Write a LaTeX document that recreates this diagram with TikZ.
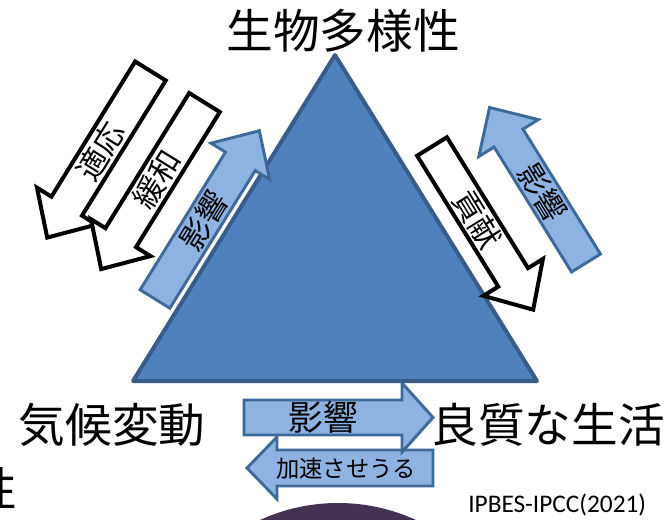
\documentclass[tikz,border=0pt]{standalone}
\usepackage{fontspec}
\newfontfamily\jpfont{Noto Sans CJK JP}
\newfontfamily\calfont{Carlito}
\definecolor{trifill}{HTML}{4F81BD}
\definecolor{triline}{HTML}{385D8A}
\definecolor{bluefill}{HTML}{8DB3E2}
\definecolor{blueline}{HTML}{3E6A9A}
\definecolor{purp}{HTML}{433252}
\newcommand{\blockarrow}[5]{%
  \draw[#1] (0,-#3) -- ({#2-#5},-#3) -- ({#2-#5},-#4) -- (#2,0) -- ({#2-#5},#4) -- ({#2-#5},#3) -- (0,#3) -- cycle;}
\tikzset{
  whitearrow/.style={draw=black, fill=white, line width=3pt, line join=miter},
  bluearrow/.style={draw=blueline, fill=bluefill, line width=2.2pt, line join=miter},
  big/.style={font=\jpfont\fontsize{35}{40}\selectfont, inner sep=0pt},
  rottext/.style={font=\jpfont\fontsize{23}{26}\selectfont, inner sep=0pt},
}
\begin{document}
\begin{tikzpicture}[x=0.75pt, y=-0.75pt]
\useasboundingbox (0,0) rectangle (671,519);
\clip (0,0) rectangle (671,519);
\fill[white] (0,0) rectangle (671,519);
% purple circle at bottom
\fill[purp] (338,690) circle (187);
% triangle
\draw[fill=trifill, draw=triline, line width=3pt, line join=round] (335,55) -- (537,381) -- (133,381) -- cycle;
% titles
\node[big] (bio) at (343,31) {生物多様性};
\node[big] (clim) at (112,425) {気候変動};
\node[big] (life) at (548,425) {良質な生活};
\node[big] (sei) at (-6,489) {性};
\node[font=\calfont\fontsize{19}{22}\selectfont, inner sep=0pt, anchor=base west] (src) at (468,512) {IPBES-IPCC(2021)};
% left side arrows
\begin{scope}[shift={(150.5,71)}, rotate=238.2]
  \blockarrow{whitearrow}{196}{18}{35}{37}
  \node[rottext, rotate=58.2] (tekiou) at (94,0) {適応};
\end{scope}
\begin{scope}[shift={(204.5,102.5)}, rotate=238.2]
  \blockarrow{whitearrow}{196}{18}{35}{37}
  \node[rottext, rotate=58.2] (kanwa) at (90,0) {緩和};
\end{scope}
\begin{scope}[shift={(155,299)}, rotate=58.2]
  \blockarrow{bluearrow}{198}{17.5}{34.5}{36}
  \node[rottext, rotate=58.2] (eikyoL) at (92,0) {影響};
\end{scope}
% right side arrows
\begin{scope}[shift={(432,146.5)}, rotate=-58.2]
  \blockarrow{whitearrow}{192}{17.5}{35}{38}
  \node[rottext, rotate=-58.2] (kouken) at (86,0) {貢献};
\end{scope}
\begin{scope}[shift={(586,263)}, rotate=121.8]
  \blockarrow{bluearrow}{183}{17}{35}{36}
  \node[rottext, rotate=-58.2] (eikyoR) at (83,0) {影響};
\end{scope}
% bottom arrows
\begin{scope}[shift={(433,468)}, rotate=180]
  \blockarrow{bluearrow}{186}{18}{31}{30}
\end{scope}
\node[font=\jpfont\fontsize{17.5}{20}\selectfont, inner sep=0pt] (kasoku) at (346,469) {加速させうる};
\begin{scope}[shift={(244,417.5)}]
  \blockarrow{bluearrow}{189}{17.5}{34.5}{31}
\end{scope}
\node[font=\jpfont\fontsize{26}{30}\selectfont, inner sep=0pt] (eikyoB) at (323,417) {影響};
\end{tikzpicture}
\end{document}
